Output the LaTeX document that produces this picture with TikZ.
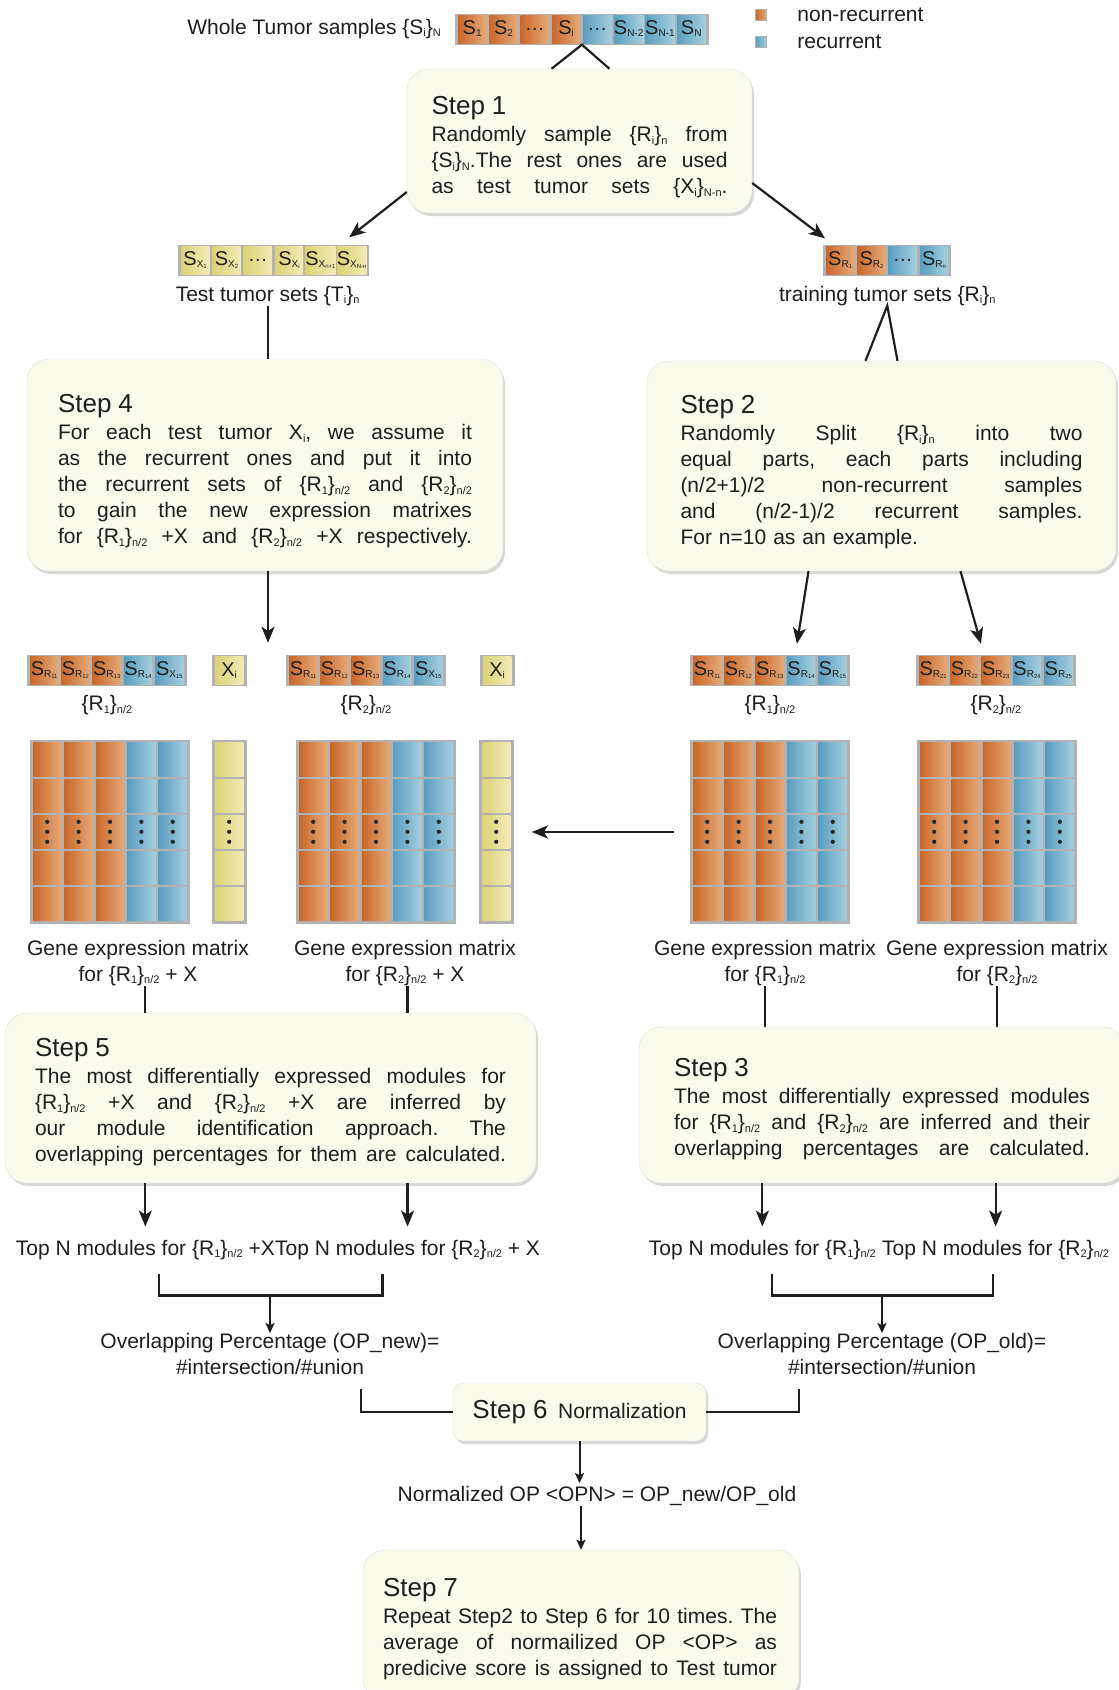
\documentclass[tikz,border=0pt]{standalone}
\usepackage{fontspec}
\setmainfont{Liberation Sans}
\usetikzlibrary{positioning, arrows.meta, shadows, calc}

\definecolor{orL}{RGB}{201,103,42}
\definecolor{orR}{RGB}{228,170,120}
\definecolor{blL}{RGB}{90,158,192}
\definecolor{blR}{RGB}{166,207,223}
\definecolor{yeL}{RGB}{220,210,118}
\definecolor{yeR}{RGB}{241,236,182}
\definecolor{gridgray}{RGB}{178,178,178}
\definecolor{boxfill}{RGB}{250,250,237}
\definecolor{ink}{RGB}{30,30,30}

% small lowered indices, as printed in the figure
\newcommand{\lo}[1]{\raisebox{-0.12em}{\fontsize{11}{11}\selectfont #1}}
\newcommand{\lc}[1]{\raisebox{-0.1em}{\fontsize{10}{10}\selectfont #1}}
\newcommand{\lcc}[1]{\raisebox{-0.1em}{\fontsize{6}{6}\selectfont #1}}
% justified line of a step box, width set per box in \jw
\newlength{\jw}
\newcommand{\jl}[1]{\leavevmode\hbox to \jw{\spaceskip=0.33em plus 3em minus 0.05em #1}}
\newcommand{\stephead}[3][31pt]{\setlength{\jw}{#3}\rule{0pt}{#1}{\fontsize{26}{26}\selectfont Step #2}\\[1pt]}

\tikzset{
  ln/.style={draw=ink, line width=2.2pt},
  arr/.style={ln, -{Stealth[length=16pt,width=13pt,inset=4pt]}},
  arrs/.style={ln, line width=2pt, -{Stealth[length=10pt,width=9pt,inset=2pt]}},
  stepbox/.style={draw=black!12, fill=boxfill, rounded corners=22pt,
    drop shadow={opacity=0.3, shadow xshift=2pt, shadow yshift=-3pt},
    align=left, inner sep=0pt, font=\fontsize{21}{26}\selectfont\frenchspacing, text=ink},
  barframe/.style={fill=gridgray, inner sep=0pt, minimum height=31pt},
  cell/.style={left color=#1L, right color=#1R, inner sep=0pt,
    minimum width=28.3pt, minimum height=28pt, font=\fontsize{20}{20}\selectfont, text=ink},
  txt/.style={inner sep=0pt, font=\fontsize{21}{26}\selectfont, text=ink, align=center},
}

% a row of sample cells: name, west point, number of cells, label/colour list
\newcommand{\cellbar}[4]{%
  \node[barframe, anchor=west, minimum width=#3*31.3pt+3pt] (#1) at (#2) {};
  \foreach \lab/\col [count=\k from 0] in {#4}
    \node[cell=\col] (#1-\k) at ($(#1.west)+(1.5+15.65+31.3*\k,0)$) {\lab};
}
% an expression matrix: name, west point, column/colour list, number of columns
\newcommand{\genemat}[4]{%
  \node[barframe, anchor=west, minimum width=#4*31.4pt+3pt, minimum height=184pt] (#1) at (#2) {};
  \foreach \c/\col in {#3}
    \foreach \r in {0,...,4}
      \node[cell=\col, minimum width=28.4pt, minimum height=33.2pt] (#1-\r-\c)
        at ($(#1.north west)+(1.5+15.7+31.4*\c, 1.5+18.1+36.2*\r)$) {};
  \foreach \c/\col in {#3}
    \foreach \d in {-10,0,10}
      \fill[black!85] ($(#1-2-\c)+(0,\d)$) circle (2.1pt);
}

\begin{document}
\begin{tikzpicture}[x=1pt, y=-1pt]
\path[use as bounding box, fill=white] (0,0) rectangle (1119,1690);

% legend
\node[cell=or, minimum width=11pt, minimum height=11pt, draw=gridgray, line width=1.5pt] (leg1) at (761,15) {};
\node[txt, right=30pt of leg1] (leg1t) {non-recurrent};
\node[cell=bl, minimum width=11pt, minimum height=11pt, draw=gridgray, line width=1.5pt] (leg2) at (761,42) {};
\node[txt, right=30pt of leg2] (leg2t) {recurrent};

% whole tumor samples
\cellbar{wbar}{455,29}{8}{S\lc{1}/or, S\lc{2}/or, \ldots/or, S\lc{i}/or, \ldots/bl, S\lc{N-2}/bl, S\lc{N-1}/bl, S\lc{N}/bl}
\node[txt, left=14pt of wbar] (wlbl) {Whole Tumor samples \{S\lo{i}\}\lo{N}};

\node[stepbox, text width=296pt, minimum width=345pt, minimum height=144pt] (s1) at (579.5,141) {\stephead{1}{296pt}%
\jl{Randomly sample \{R\lo{i}\}\lo{n} from}\\
\jl{\{S\lo{i}\}\lo{N}.The rest ones are used}\\
\jl{as test tumor sets \{X\lo{i}\}\lo{N-n}.}};

% test and training sets
\cellbar{tbar}{178,260}{6}{S\lc{X\lcc{1}}/ye, S\lc{X\lcc{2}}/ye, \ldots/ye, S\lc{X\lcc{i}}/ye, S\lc{X\lcc{n+1}}/ye, S\lc{X\lcc{N-n}}/ye}
\node[txt, below=10pt of tbar, xshift=-6pt] (tlbl) {Test tumor sets \{T\lo{i}\}\lo{n}};
\cellbar{rbar}{823,260}{4}{S\lc{R\lcc{1}}/or, S\lc{R\lcc{2}}/or, \ldots/bl, S\lc{R\lcc{n}}/bl}
\node[txt, below=10pt of rbar] (rlbl) {training tumor sets \{R\lo{i}\}\lo{n}};

\node[stepbox, text width=414pt, minimum width=476pt, minimum height=212pt] (s4) at (265,465) {\stephead{4}{414pt}%
\jl{For each test tumor X\lo{i}, we assume it}\\
\jl{as the recurrent ones and put it into}\\
\jl{the recurrent sets of \{R\lo{1}\}\lo{n/2} and \{R\lo{2}\}\lo{n/2}}\\
\jl{to gain the new expression matrixes}\\
\jl{for \{R\lo{1}\}\lo{n/2} +X and \{R\lo{2}\}\lo{n/2} +X respectively.}};

\node[stepbox, text width=402pt, minimum width=469pt, minimum height=210pt] (s2) at (881.5,466) {\stephead{2}{402pt}%
\jl{Randomly Split \{R\lo{i}\}\lo{n} into two}\\
\jl{equal parts, each parts including}\\
\jl{(n/2+1)/2 non-recurrent samples}\\
\jl{and (n/2-1)/2 recurrent samples.}\\
For n=10 as an example.};

% split sets
\cellbar{l1bar}{27,670.5}{5}{S\lc{R\lcc{11}}/or, S\lc{R\lcc{12}}/or, S\lc{R\lcc{13}}/or, S\lc{R\lcc{14}}/bl, S\lc{X\lcc{15}}/bl}
\cellbar{x1cell}{212,670.5}{1}{X\lc{i}/ye}
\cellbar{l2bar}{286,670.5}{5}{S\lc{R\lcc{11}}/or, S\lc{R\lcc{12}}/or, S\lc{R\lcc{13}}/or, S\lc{R\lcc{14}}/bl, S\lc{X\lcc{15}}/bl}
\cellbar{x2cell}{480,670.5}{1}{X\lc{i}/ye}
\cellbar{r1bar}{690,670.5}{5}{S\lc{R\lcc{11}}/or, S\lc{R\lcc{12}}/or, S\lc{R\lcc{13}}/or, S\lc{R\lcc{14}}/bl, S\lc{R\lcc{15}}/bl}
\cellbar{r2bar}{916,670.5}{5}{S\lc{R\lcc{21}}/or, S\lc{R\lcc{22}}/or, S\lc{R\lcc{23}}/or, S\lc{R\lcc{24}}/bl, S\lc{R\lcc{25}}/bl}
\node[txt, below=9pt of l1bar] (l1lbl) {\{R\lo{1}\}\lo{n/2}};
\node[txt, below=9pt of l2bar] (l2lbl) {\{R\lo{2}\}\lo{n/2}};
\node[txt, below=9pt of r1bar] (r1lbl) {\{R\lo{1}\}\lo{n/2}};
\node[txt, below=9pt of r2bar] (r2lbl) {\{R\lo{2}\}\lo{n/2}};

% expression matrices
\genemat{m1}{30,832}{0/or,1/or,2/or,3/bl,4/bl}{5}
\genemat{y1}{212,832}{0/ye}{1}
\genemat{m2}{296,832}{0/or,1/or,2/or,3/bl,4/bl}{5}
\genemat{y2}{479,832}{0/ye}{1}
\genemat{rm1}{690,832}{0/or,1/or,2/or,3/bl,4/bl}{5}
\genemat{rm2}{917,832}{0/or,1/or,2/or,3/bl,4/bl}{5}
\node[txt] (g1lbl) at (138,963) {Gene expression matrix\\for \{R\lo{1}\}\lo{n/2} + X};
\node[txt] (g2lbl) at (405,963) {Gene expression matrix\\for \{R\lo{2}\}\lo{n/2} + X};
\node[txt] (g3lbl) at (765,963) {Gene expression matrix\\for \{R\lo{1}\}\lo{n/2}};
\node[txt] (g4lbl) at (997,963) {Gene expression matrix\\for \{R\lo{2}\}\lo{n/2}};

\node[stepbox, text width=471pt, minimum width=531pt, minimum height=170pt] (s5) at (270.5,1098) {\stephead[27pt]{5}{471pt}%
\jl{The most differentially expressed modules for}\\
\jl{\{R\lo{1}\}\lo{n/2} +X and \{R\lo{2}\}\lo{n/2} +X are inferred by}\\
\jl{our module identification approach. The}\\
\jl{overlapping percentages for them are calculated.}};

\node[stepbox, text width=416pt, minimum width=486pt, minimum height=156pt] (s3) at (882,1105) {\stephead[27pt]{3}{416pt}%
\jl{The most differentially expressed modules}\\
\jl{for \{R\lo{1}\}\lo{n/2} and \{R\lo{2}\}\lo{n/2} are inferred and their}\\
\jl{overlapping percentages are calculated.}};

% top modules and overlaps
\node[txt, anchor=base east] (tn1) at (275,1255) {Top N modules for \{R\lo{1}\}\lo{n/2} +X};
\node[txt, anchor=base west] (tn2) at (275,1255) {Top N modules for \{R\lo{2}\}\lo{n/2} + X};
\node[txt, anchor=base east] (tn3) at (876,1255) {Top N modules for \{R\lo{1}\}\lo{n/2}};
\node[txt, anchor=base west] (tn4) at (882,1255) {Top N modules for \{R\lo{2}\}\lo{n/2}};
\node[txt] (op1) at (270,1354) {Overlapping Percentage (OP\_new)=\\\#intersection/\#union};
\node[txt] (op2) at (882,1354) {Overlapping Percentage (OP\_old)=\\\#intersection/\#union};

\node[stepbox, minimum width=253pt, minimum height=58pt, rounded corners=10pt] (s6) at (579.5,1412) {{\fontsize{26}{26}\selectfont Step 6}\enspace Normalization};
\node[txt] (nop) at (597,1496) {Normalized OP <OPN> = OP\_new/OP\_old};

\node[stepbox, text width=396pt, minimum width=436pt, minimum height=150pt] (s7) at (581,1625) {\stephead[27pt]{7}{394pt}%
\jl{Repeat Step2 to Step 6 for 10 times. The}\\
\jl{average of normailized OP <OP> as}\\
\jl{predicive score is assigned to Test tumor}};

% connectors
\draw[ln] ([xshift=-28pt]s1.north) -- (wbar.south) -- ([xshift=30pt]s1.north);
\draw[arr] ([yshift=-51pt]s1.west) -- ([xshift=-20pt,yshift=7pt]tbar.north east);
\draw[arr] ([yshift=-42pt]s1.east) -- ([xshift=2pt,yshift=6pt]rbar.north west);
\draw[ln] (tlbl.south) -- (tlbl.south |- s4.north);
\draw[ln] ([xshift=-16pt]s2.north) -- (rlbl.south) -- ([xshift=16pt]s2.north);
\draw[arr, shorten >=12pt] ([xshift=3pt]s4.south) -- ([xshift=3pt]s4.south |- l1bar.north);
\draw[arr] ([xshift=-73pt]s2.south) -- ([xshift=27pt,yshift=11pt]r1bar.north);
\draw[arr] ([xshift=79pt]s2.south) -- ([xshift=-15pt,yshift=11pt]r2bar.north);
\draw[arr] ([xshift=-16pt]rm1.west) -- ([xshift=18pt]y2.east);
\draw[ln] (g1lbl.south -| tn1.north) -- (s5.north -| tn1.north);
\draw[ln] (g2lbl.south -| tn2.north) -- (s5.north -| tn2.north);
\draw[ln] (g3lbl.south) -- (g3lbl.south |- s3.north);
\draw[ln] (g4lbl.south) -- (g4lbl.south |- s3.north);
\draw[arr, shorten >=13pt] (s5.south -| tn1.north) -- (tn1.north);
\draw[arr, shorten >=13pt] (s5.south -| tn2.north) -- (tn2.north);
\draw[arr, shorten >=13pt] (s3.south -| tn3.north) -- (tn3.north);
\draw[arr, shorten >=13pt] (s3.south -| tn4.north) -- (tn4.north);
\draw[ln] ([xshift=14pt,yshift=-14pt]tn1.south) -- ++(0,22) coordinate (bk1) -| ([xshift=-25pt,yshift=-14pt]tn2.south);
\draw[ln] ([xshift=10pt,yshift=-14pt]tn3.south) -- ++(0,22) coordinate (bk2) -| ([xshift=-3pt,yshift=-14pt]tn4.south);
\draw[arrs] (bk1 -| op1.north) -- (op1.north);
\draw[arrs] (bk2 -| op2.north) -- (op2.north);
\draw[ln] ([xshift=91pt,yshift=-14pt]op1.south) |- (s6.west);
\draw[ln] ([xshift=-83pt,yshift=-14pt]op2.south) |- (s6.east);
\draw[arrs, shorten >=3pt] (s6.south) -- (s6.south |- nop.north);
\draw[arrs] (nop.south -| s7.north) -- (s7.north);
\end{tikzpicture}
\end{document}
